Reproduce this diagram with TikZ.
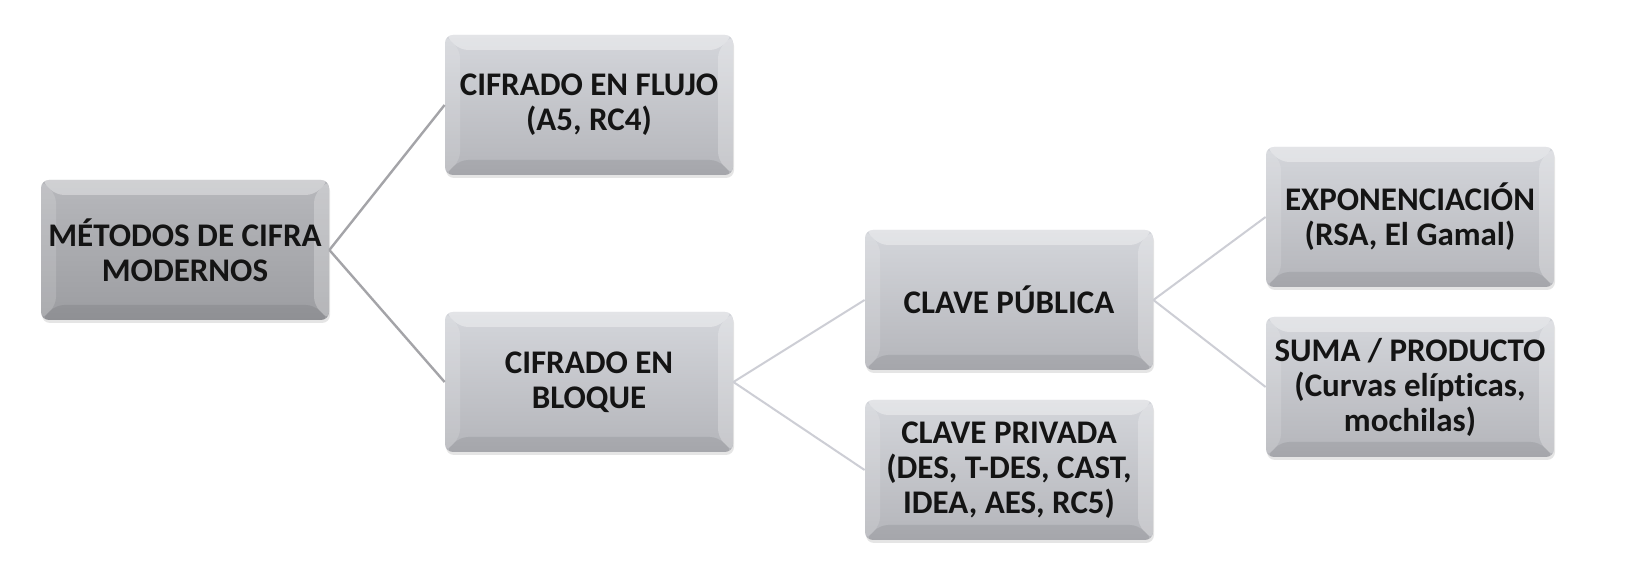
\documentclass[tikz,border=0pt]{standalone}
\usepackage{fontspec}
\setmainfont{Carlito}[Ligatures={NoCommon,TeX}]
\usepackage{tikz}
\usetikzlibrary{shadows}
\definecolor{boxtop}{HTML}{D4D6DB}
\definecolor{boxbot}{HTML}{B4B5BA}
\definecolor{roottop}{HTML}{B7B8BC}
\definecolor{rootbot}{HTML}{9C9DA1}
\definecolor{linkgray}{HTML}{CDCED5}
\definecolor{rootlink}{HTML}{A4A4A8}
\tikzset{
  bevel/.style={path picture={
    \fill[white,opacity=.35] (path picture bounding box.north west) -- (path picture bounding box.north east)
      -- ++(-7.5pt,-7.5pt) -- ([shift={(7.5pt,-7.5pt)}]path picture bounding box.north west) -- cycle;
    \fill[black,opacity=.08] (path picture bounding box.south west) -- (path picture bounding box.south east)
      -- ++(-7.5pt,7.5pt) -- ([shift={(7.5pt,7.5pt)}]path picture bounding box.south west) -- cycle;
    \fill[white,opacity=.15] (path picture bounding box.north west) -- (path picture bounding box.south west)
      -- ++(7.5pt,7.5pt) -- ([shift={(7.5pt,-7.5pt)}]path picture bounding box.north west) -- cycle;
    \fill[white,opacity=.25] (path picture bounding box.north east) -- (path picture bounding box.south east)
      -- ++(-7.5pt,7.5pt) -- ([shift={(-7.5pt,-7.5pt)}]path picture bounding box.north east) -- cycle;
  }},
  cbox/.style={rectangle, rounded corners=4pt, minimum width=144pt, minimum height=70pt,
    align=center, text=black!92, font=\fontsize{16.5}{17.5}\selectfont\bfseries,
    top color=boxtop, bottom color=boxbot, bevel,
    drop shadow={opacity=.2, shadow xshift=.5pt, shadow yshift=-1.5pt}},
  rootbox/.style={cbox, top color=roottop, bottom color=rootbot},
  link/.style={draw=linkgray, line width=1pt},
  rootline/.style={draw=rootlink, line width=1.2pt}
}
\begin{document}
\begin{tikzpicture}[x=0.5pt,y=-0.5pt]
    \fill[white] (0,0) rectangle (1628,565);
    \useasboundingbox (0,0) rectangle (1628,565);

    \node[rootbox] at (185,250) (root){MÉTODOS DE CIFRA\\MODERNOS};

    \node[cbox] at (589,105) (flujo){CIFRADO EN FLUJO\\(A5, RC4)};
    \node[cbox] at (589,382) (bloque){CIFRADO EN\\BLOQUE};

    \node[cbox] at (1009,300) (publica){CLAVE PÚBLICA};
    \node[cbox] at (1009,470) (privada){CLAVE PRIVADA\\(DES, T-DES, CAST,\\IDEA, AES, RC5)};

    \node[cbox] at (1410,217) (expo){EXPONENCIACIÓN\\(RSA, El Gamal)};
    \node[cbox] at (1410,387) (suma){SUMA / PRODUCTO\\(Curvas elípticas,\\mochilas)};

    \draw [rootline] (root.east) -- (flujo.west);
    \draw [rootline] (root.east) -- (bloque.west);
    \draw [link] (bloque.east) -- (publica.west);
    \draw [link] (bloque.east) -- (privada.west);
    \draw [link] (publica.east) -- (expo.west);
    \draw [link] (publica.east) -- (suma.west);
  \end{tikzpicture}
\end{document}
